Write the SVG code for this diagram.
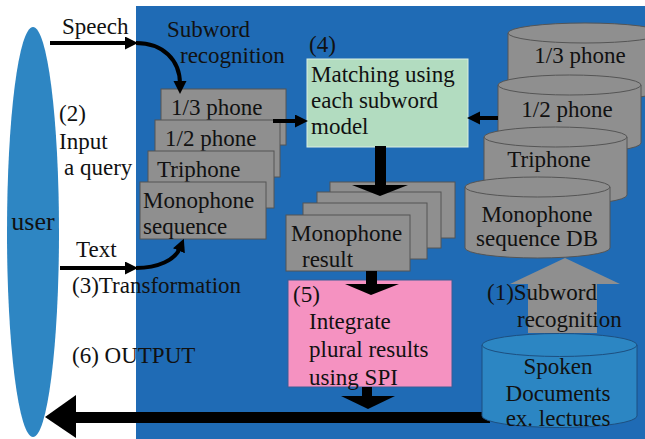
<svg xmlns="http://www.w3.org/2000/svg" width="645" height="439" viewBox="0 0 645 439">
  <defs>
    <marker id="head" markerUnits="userSpaceOnUse" markerWidth="14" markerHeight="14" refX="3" refY="6.5" orient="auto">
      <path d="M0,0 L13,6.5 L0,13 z" fill="#000"/>
    </marker>
  </defs>
  <style>
    text { font-family: Liberation Serif, Times New Roman, Tinos, Noto Serif, DejaVu Serif, serif; font-size: 23px; fill: #111; }
    .mid { text-anchor: middle; }
    .box { fill: #8f8f8f; stroke: #555; stroke-width: 1; }
    .cyl { fill: #8f8f8f; stroke: #555; stroke-width: 1; }
    .thin { fill: none; stroke: #000; stroke-width: 4; }
    .block { fill: #000; }
  </style>

  <!-- background panel -->
  <rect x="0" y="0" width="645" height="439" fill="#fff"/>
  <rect x="136" y="6" width="509" height="433" fill="#1f6bb5"/>

  <!-- user -->
  <g id="user">
    <ellipse cx="33" cy="232" rx="26" ry="205" fill="#2e86c3"/>
    <text x="33" y="230" class="mid" style="font-size:26px">user</text>
  </g>

  <!-- query subword sequences (stacked) -->
  <g id="query-1-3-phone">
    <rect x="161" y="89" width="125" height="56" class="box"/>
    <text x="171" y="115">1/3 phone</text>
  </g>
  <g id="query-1-2-phone">
    <rect x="155" y="120" width="125" height="57" class="box"/>
    <text x="165" y="146">1/2 phone</text>
  </g>
  <g id="query-triphone">
    <rect x="148" y="151" width="126" height="57" class="box"/>
    <text x="157" y="177">Triphone</text>
  </g>
  <g id="query-monophone">
    <rect x="140" y="182" width="126" height="57" class="box"/>
    <text x="143" y="208">Monophone</text>
    <text x="143" y="234">sequence</text>
  </g>

  <!-- matching step -->
  <g id="matching">
    <text x="309" y="52">(4)</text>
    <rect x="307" y="59" width="161" height="88" fill="#b2dcc0" stroke="#dcefe2" stroke-width="1"/>
    <text x="311" y="82">Matching using</text>
    <text x="311" y="108">each subword</text>
    <text x="311" y="134">model</text>
  </g>

  <!-- database cylinders -->
  <g id="db-1-3-phone">
    <path d="M508,33 V90 A77,10 0 0 0 662,90 V33 Z" class="cyl"/>
    <ellipse cx="585" cy="33" rx="77" ry="10" class="cyl"/>
    <text x="580" y="63" class="mid">1/3 phone</text>
  </g>
  <g id="db-1-2-phone">
    <path d="M498,85 V143 A71.5,10 0 0 0 641,143 V85 Z" class="cyl"/>
    <ellipse cx="569.5" cy="85" rx="71.5" ry="10" class="cyl"/>
    <text x="567" y="117" class="mid">1/2 phone</text>
  </g>
  <g id="db-triphone">
    <path d="M484,137 V195 A71.5,10 0 0 0 627,195 V137 Z" class="cyl"/>
    <ellipse cx="555.5" cy="137" rx="71.5" ry="10" class="cyl"/>
    <text x="549" y="167" class="mid">Triphone</text>
  </g>
  <g id="db-monophone">
    <path d="M465,187 V248 A72.5,10 0 0 0 610,248 V187 Z" class="cyl"/>
    <ellipse cx="537.5" cy="187" rx="72.5" ry="10" class="cyl"/>
    <text x="537" y="222" class="mid">Monophone</text>
    <text x="537" y="246" class="mid">sequence DB</text>
  </g>

  <!-- result stack -->
  <g id="result-stack">
    <rect x="330" y="182" width="125" height="56" class="box"/>
    <rect x="317" y="192" width="124" height="56" class="box"/>
    <rect x="303" y="203" width="124" height="56" class="box"/>
  </g>
  <g id="monophone-result">
    <rect x="286" y="215" width="124" height="56" class="box"/>
    <text x="291" y="241">Monophone</text>
    <text x="302" y="267">result</text>
  </g>

  <!-- integration step -->
  <g id="integrate">
    <rect x="288" y="280" width="164" height="107" fill="#f592c1" stroke="#3b5f96" stroke-width="1"/>
    <text x="293" y="302">(5)</text>
    <text x="309" y="329">Integrate</text>
    <text x="309" y="357">plural results</text>
    <text x="309" y="385">using SPI</text>
  </g>

  <!-- connectors -->
  <g id="connectors">
    <!-- speech input -->
    <path d="M50,43 H128" class="thin" marker-end="url(#head)"/>
    <path d="M136,43 C163,43 180,60 180,84" class="thin" marker-end="url(#head)"/>
    <!-- text input -->
    <path d="M60,268 H128" class="thin" marker-end="url(#head)"/>
    <path d="M136,268 C158,268 175,260 180,248" class="thin" marker-end="url(#head)"/>
    <!-- query to matching -->
    <path d="M273,121 H298" class="thin" marker-end="url(#head)"/>
    <!-- database to matching -->
    <path d="M498,118 H477" class="thin" marker-end="url(#head)"/>

    <!-- matching to results -->
    <rect x="375" y="146" width="11" height="40" class="block"/>
    <polygon points="352,185 408,185 380,196" class="block"/>
    <!-- results to integration -->
    <rect x="366" y="271" width="11" height="14" class="block"/>
    <polygon points="345,284 399,284 371,295" class="block"/>
    <!-- integration to output -->
    <rect x="362" y="387" width="10" height="10" class="block"/>
    <polygon points="341,396 395,396 368,409" class="block"/>
    <!-- output to user -->
    <rect x="75" y="412" width="415" height="11" class="block"/>
    <polygon points="76,395 76,438 45,417" class="block"/>

    <!-- subword recognition of spoken documents -->
    <polygon points="528,333 528,284 510,284 565,258 620,284 597,284 597,333" fill="#8f8f8f"/>
  </g>

  <!-- spoken documents -->
  <g id="spoken-documents">
    <path d="M482,345 V416 A77.5,11.5 0 0 0 637,416 V345 Z" fill="#2c86c3" stroke="#1d4f80" stroke-width="1"/>
    <ellipse cx="559.5" cy="345" rx="77.5" ry="11.5" fill="#2c86c3" stroke="#1d4f80" stroke-width="1"/>
    <text x="558" y="374" class="mid">Spoken</text>
    <text x="558" y="401" class="mid">Documents</text>
    <text x="558" y="426" class="mid">ex. lectures</text>
  </g>

  <!-- labels -->
  <g id="labels">
    <text x="62" y="34">Speech</text>
    <text x="167" y="37">Subword</text>
    <text x="180" y="63">recognition</text>
    <text x="59" y="121">(2)</text>
    <text x="59" y="149">Input</text>
    <text x="64" y="175">a query</text>
    <text x="76" y="257">Text</text>
    <text x="72" y="293">(3)Transformation</text>
    <text x="72" y="363">(6) OUTPUT</text>
    <text x="487" y="300">(1)Subword</text>
    <text x="517" y="327">recognition</text>
  </g>
</svg>
